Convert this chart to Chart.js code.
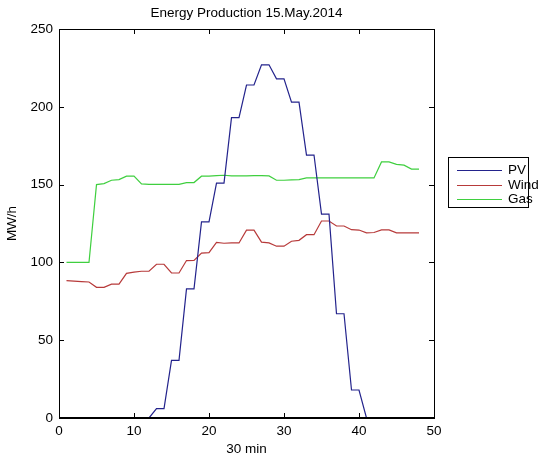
<!DOCTYPE html>
<html>
<head>
<meta charset="utf-8">
<title>Energy Production 15.May.2014</title>
<script src="https://cdn.jsdelivr.net/npm/chart.js@4"></script>
<style>
    html, body { margin: 0; padding: 0; background: #fff; }
    #wrap { width: 547px; height: 459px; }
</style>
</head>
<body>
<div id="wrap"><canvas id="energyChart" width="547" height="459"></canvas></div>
<script>
// Half-hour slots of the day
const halfHours = [1, 2, 3, 4, 5, 6, 7, 8, 9, 10, 11, 12, 13, 14, 15, 16, 17, 18, 19, 20, 21, 22, 23, 24,
    25, 26, 27, 28, 29, 30, 31, 32, 33, 34, 35, 36, 37, 38, 39, 40, 41, 42, 43, 44, 45, 46, 47, 48];

// MW/h per slot
const pvValues = [0, 0, 0, 0, 0, 0, 0, 0, 0, 0, 0, 0, 6, 6, 37, 37, 83, 83, 126, 126, 151, 151, 193, 193,
    214, 214, 227, 227, 218, 218, 203, 203, 169, 169, 131, 131, 67, 67, 18, 18, 0, 0, 0, 0, 0, 0, 0, 0];
const windValues = [88.3, 88, 87.7, 87.4, 84, 84, 86, 86, 93, 93.8, 94.3, 94.3, 98.8, 98.8, 93.2, 93.2,
    101.2, 101.3, 106, 106.3, 112.9, 112.3, 112.5, 112.5, 120.7, 120.7, 113, 112.5, 110.4, 110.4, 113.6, 114.2,
    117.8, 117.8, 126.6, 126.6, 123.4, 123.4, 121, 120.8, 119, 119.2, 120.9, 120.9, 119, 119, 119, 119];
const gasValues = [100, 100, 100, 100, 150, 150.6, 152.8, 153.2, 155.4, 155.4, 150.5, 150.2, 150.2, 150.2, 150.2, 150.2,
    151.3, 151.3, 155.4, 155.5, 155.8, 156, 155.6, 155.6, 155.6, 155.8, 155.8, 155.6, 152.8, 152.8, 153, 153.2,
    154.3, 154.3, 154.3, 154.3, 154.3, 154.3, 154.3, 154.3, 154.3, 154.3, 164.6, 164.6, 163, 162.5, 160, 160];

const seriesLabels = ['PV', 'Wind', 'Gas'];
const seriesColors = ['#23238c', '#b73a3a', '#3fcf3f'];

const chartTitle = 'Energy Production 15.May.2014';
const xTitle = '30 min';
const yTitle = 'MW/h';
const FONT = "'Liberation Sans', Arial, sans-serif";

function toPoints(values) {
    return values.map((v, i) => ({ x: halfHours[i], y: v }));
}

/**
 * White background, MATLAB-style box with inward ticks, title and legend.
 */
const matlabFrame = {
    id: 'matlabFrame',
    beforeDraw(chart) {
        const ctx = chart.ctx;
        ctx.save();
        ctx.fillStyle = '#fff';
        ctx.fillRect(0, 0, chart.width, chart.height);
        ctx.restore();
    },
    afterDatasetsDraw(chart) {
        const { ctx, chartArea: a, scales: { x, y } } = chart;
        const tick = 5;
        ctx.save();
        ctx.strokeStyle = '#000';
        ctx.lineWidth = 1;
        ctx.beginPath();
        x.ticks.forEach(t => {
            const px = Math.round(x.getPixelForValue(t.value)) + 0.5;
            ctx.moveTo(px, a.bottom); ctx.lineTo(px, a.bottom - tick);
            ctx.moveTo(px, a.top); ctx.lineTo(px, a.top + tick);
        });
        y.ticks.forEach(t => {
            const py = Math.round(y.getPixelForValue(t.value)) + 0.5;
            ctx.moveTo(a.left, py); ctx.lineTo(a.left + tick, py);
            ctx.moveTo(a.right, py); ctx.lineTo(a.right - tick, py);
        });
        ctx.stroke();
        ctx.strokeRect(Math.round(a.left) + 0.5, Math.round(a.top) + 0.5,
            Math.round(a.right - a.left), Math.round(a.bottom - a.top) - 1);
        // bottom axis sits over the zero-valued PV stretch, as in the original
        ctx.fillStyle = '#000';
        ctx.fillRect(Math.round(a.left), Math.round(a.bottom) - 1, Math.round(a.right - a.left) + 1, 2);

        // title
        ctx.font = '13.5px ' + FONT;
        ctx.textAlign = 'center';
        ctx.textBaseline = 'middle';
        ctx.fillText(chartTitle, (a.left + a.right) / 2, 13);
        ctx.restore();
    },
    afterDraw(chart) {
        const ctx = chart.ctx;
        const box = { left: 448, top: 157, width: 80, height: 50 };
        ctx.save();
        ctx.fillStyle = '#fff';
        ctx.fillRect(box.left, box.top, box.width, box.height);
        ctx.strokeStyle = '#000';
        ctx.lineWidth = 1;
        ctx.strokeRect(box.left + 0.5, box.top + 0.5, box.width, box.height);
        ctx.font = '13.5px ' + FONT;
        ctx.textAlign = 'left';
        ctx.textBaseline = 'middle';
        for (let i = 0; i < seriesLabels.length; i++) {
            const rowY = Math.round(box.top + 13 + i * 14.5);
            ctx.fillStyle = seriesColors[i];
            ctx.fillRect(box.left + 9, rowY, 45, 1);
            ctx.fillStyle = '#000';
            ctx.fillText(seriesLabels[i], box.left + 60, rowY);
        }
        ctx.restore();
    }
};

document.addEventListener('DOMContentLoaded', function () {
    const ctx = document.getElementById('energyChart');
    const seriesValues = [pvValues, windValues, gasValues];

    new Chart(ctx, {
        type: 'line',
        data: {
            datasets: seriesValues.map((vals, i) => ({
                label: seriesLabels[i],
                data: toPoints(vals),
                borderColor: seriesColors[i],
                backgroundColor: seriesColors[i],
                borderWidth: 1.2,
                pointRadius: 0,
                tension: 0,
                fill: false
            }))
        },
        options: {
            responsive: false,
            animation: false,
            layout: { padding: { left: 0, right: 113, top: 29, bottom: 0 } },
            scales: {
                x: {
                    type: 'linear',
                    min: 0, max: 50,
                    grid: { display: false, drawTicks: false },
                    border: { display: false },
                    ticks: { stepSize: 10, color: '#000', padding: 5, font: { family: FONT, size: 13.5 } },
                    title: { display: true, text: xTitle, color: '#000', padding: { top: 0, bottom: 2 }, font: { family: FONT, size: 13.5 } },
                    afterFit: scale => { scale.height = 41; }
                },
                y: {
                    min: 0, max: 250,
                    grid: { display: false, drawTicks: false },
                    border: { display: false },
                    ticks: { stepSize: 50, color: '#000', padding: 6, font: { family: FONT, size: 13.5 } },
                    title: { display: true, text: yTitle, color: '#000', padding: { top: 4, bottom: 0 }, font: { family: FONT, size: 13.5 } },
                    afterFit: scale => { scale.width = 59; }
                }
            },
            plugins: {
                legend: { display: false },
                tooltip: { enabled: false }
            }
        },
        plugins: [matlabFrame]
    });
});
</script>
</body>
</html>
